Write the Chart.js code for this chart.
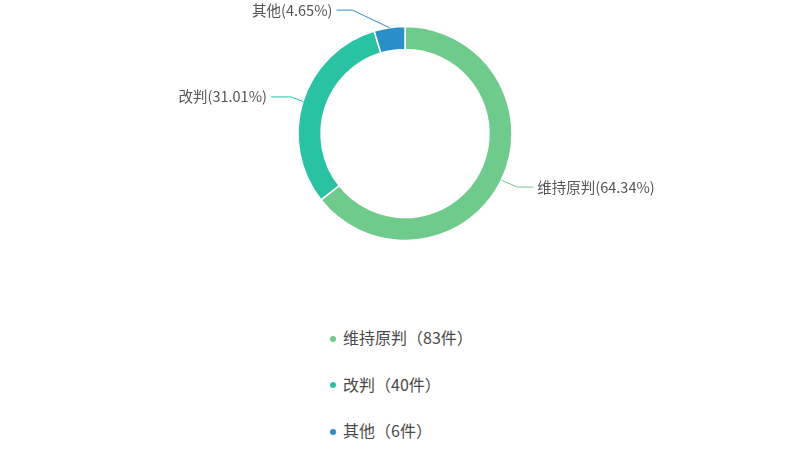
<!DOCTYPE html>
<html>
<head>
<meta charset="utf-8">
<script src="https://cdn.jsdelivr.net/npm/chart.js@4/dist/chart.umd.min.js"></script>
<style>
  html, body { margin: 0; padding: 0; background: #fff; }
  body { width: 810px; height: 456px; position: relative; overflow: hidden;
         font-family: "Noto Sans CJK SC", "Noto Sans", sans-serif; }
  #wrap { position: absolute; left: 0; top: 0; width: 810px; height: 267px; }
  #legend { position: absolute; left: 330px; top: 314px; margin: 0; padding: 0; list-style: none; }
  #legend li { height: 46.5px; line-height: 46px; font-size: 16px; color: #4a4a4a; white-space: nowrap; }
  #legend .dot { display: inline-block; width: 6px; height: 6px; border-radius: 50%;
                 margin-right: 7px; vertical-align: middle; position: relative; top: -1px; }
</style>
</head>
<body>
<div id="wrap"><canvas id="pie"></canvas></div>
<ul id="legend"></ul>
<script>
  // 判决结果分布
  const categories = ["维持原判", "改判", "其他"];
  const counts     = [83, 40, 6];
  const colors     = ["#6fcb8b", "#29c3a4", "#2a8fc6"];

  const total = counts.reduce((s, v) => s + v, 0);

  // leader line: elbow offset from arc edge, then horizontal run
  const labelLines = {
    id: "labelLines",
    afterDatasetsDraw(chart, args, opts) {
      const ctx = chart.ctx;
      const meta = chart.getDatasetMeta(0);
      ctx.save();
      ctx.font = opts.font;
      ctx.lineWidth = 1;
      meta.data.forEach((arc, i) => {
        const p = arc.getProps(["x", "y", "startAngle", "endAngle", "outerRadius"], true);
        const mid = (p.startAngle + p.endAngle) / 2;
        const ax = p.x + Math.cos(mid) * p.outerRadius;
        const ay = p.y + Math.sin(mid) * p.outerRadius;
        const side = Math.cos(mid) >= 0 ? 1 : -1;
        const ex = ax + opts.elbows[i][0], ey = ay + opts.elbows[i][1];
        const hx = ex + side * opts.elbows[i][2];
        ctx.strokeStyle = colors[i];
        ctx.beginPath();
        ctx.moveTo(ax, ay);
        ctx.lineTo(ex, ey);
        ctx.lineTo(hx, ey);
        ctx.stroke();
        const pct = (counts[i] / total * 100).toFixed(2);
        ctx.fillStyle = opts.color;
        ctx.textBaseline = "middle";
        ctx.textAlign = side > 0 ? "left" : "right";
        ctx.fillText(categories[i] + "(" + pct + "%)", hx + side * 4, ey);
      });
      ctx.restore();
    }
  };

  new Chart(document.getElementById("pie"), {
    type: "doughnut",
    data: {
      labels: categories,
      datasets: [{
        data: counts,
        backgroundColor: colors,
        borderColor: "#fff",
        borderWidth: 1.5,
        hoverOffset: 0
      }]
    },
    options: {
      responsive: true,
      maintainAspectRatio: false,
      animation: false,
      radius: 107,
      cutout: "78.5%",
      layout: { padding: 0 },
      plugins: {
        legend: { display: false },
        tooltip: { enabled: false },
        labelLines: {
          font: '14.5px "Noto Sans CJK SC", sans-serif',
          color: "#555",
          elbows: [[16, 7, 16], [-12, -4.5, 20], [-37, -17.5, 16]]
        }
      }
    },
    plugins: [labelLines]
  });

  document.getElementById("legend").innerHTML = categories.map((c, i) =>
    `<li><span class="dot" style="background:${colors[i]}"></span>${c}（${counts[i]}件）</li>`
  ).join("");
</script>
</body>
</html>
